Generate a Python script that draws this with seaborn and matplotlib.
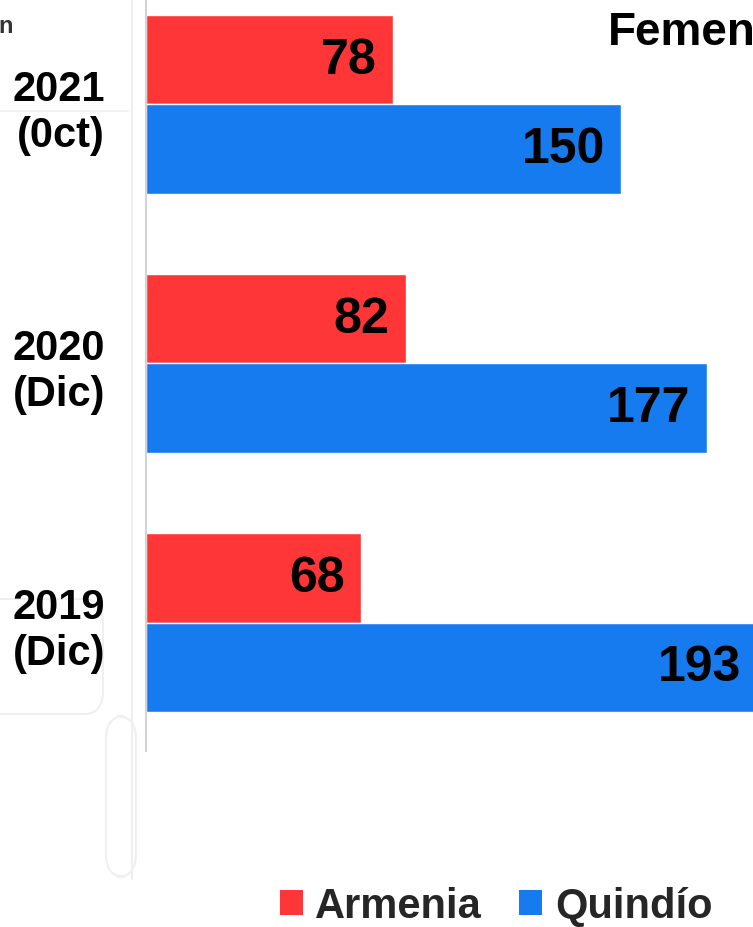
import pandas as pd
import matplotlib.pyplot as plt
import seaborn as sns
from matplotlib.patches import FancyBboxPatch, Patch

# data
periods = ['2021\n(0ct)', '2020\n(Dic)', '2019\n(Dic)']
armenia = [78, 82, 68]
quindio = [150, 177, 193]
series_names = ['Armenia', 'Quindío']
colors = ['#FE3638', '#177BF0']

df = pd.DataFrame({
    'periodo': periods * 2,
    'valor': armenia + quindio,
    'serie': [series_names[0]] * 3 + [series_names[1]] * 3,
})

sns.set_theme(style='white')
plt.rcParams['font.family'] = ['Liberation Sans', 'DejaVu Sans']
plt.rcParams['font.weight'] = 'bold'

W, H = 753, 928
fig = plt.figure(figsize=(W / 100, H / 100), dpi=100)
fig.patch.set_facecolor('white')

# faint background boxes from the original page (kept behind everything)
faint = '#efefef'
for (x0, y0, w, h) in [(-20, 600, 123, 115), (106, 717, 30, 161)]:
    fig.patches.append(FancyBboxPatch((x0 / W, 1 - (y0 + h) / H), w / W, h / H,
                                      boxstyle='round,pad=0,rounding_size=0.025',
                                      transform=fig.transFigure, fill=False,
                                      edgecolor=faint, linewidth=1.5, zorder=-5))
fig.add_artist(plt.Line2D([132 / W, 132 / W], [1 - 880 / H, 1], transform=fig.transFigure,
                          color=faint, lw=1.5, zorder=-5))
fig.add_artist(plt.Line2D([0, 128 / W], [1 - 112 / H, 1 - 112 / H], transform=fig.transFigure,
                          color=faint, lw=1.2, zorder=-5))

ax = fig.add_axes([146 / W, 1 - 752 / H, 1 - 146 / W, 752 / H])
ax.patch.set_alpha(0)
sns.barplot(data=df, x='valor', y='periodo', hue='serie', orient='h',
            palette=colors, width=0.69, saturation=1, ax=ax, legend=False)

ax.set_xlim(0, 607 / (475 / 150))
ax.set_ylim(2.496, -0.407)
ax.set_xlabel('')
ax.set_ylabel('')
ax.set_xticks([])
ax.tick_params(axis='y', length=0, pad=29.5, labelsize=30)
for t in ax.get_yticklabels():
    t.set_fontweight('bold')
    t.set_color('black')
for s in ['top', 'right', 'bottom']:
    ax.spines[s].set_visible(False)
ax.spines['left'].set_color('#d4d4d4')
ax.spines['left'].set_linewidth(1.5)

# value labels inside bar ends
for bars in ax.containers:
    for bar in bars:
        v = bar.get_width()
        ax.annotate(f'{v:.0f}', xy=(v, bar.get_y() + bar.get_height() / 2),
                    xytext=(-16, 0), textcoords='offset pixels',
                    ha='right', va='center', fontsize=36, fontweight='bold',
                    color='black', annotation_clip=False)

# title is cut by the right edge in the original crop
fig.text(608 / W, 1 - 45 / H, 'Femenino', fontsize=33, fontweight='bold',
         ha='left', va='baseline', color='black')
fig.text(13 / W, 1 - 33 / H, 'n', fontsize=17, fontweight='bold',
         ha='right', va='baseline', color='#333333')

handles = [Patch(facecolor=c, edgecolor='none') for c in colors]
fig.legend(handles, series_names, loc='center', bbox_to_anchor=(496 / W, 1 - 907 / H),
           ncol=2, frameon=False, prop={'weight': 'bold', 'size': 30},
           handlelength=0.55, handleheight=0.55, handletextpad=0.3, columnspacing=0.9)

plt.savefig('out.png', dpi=100)
